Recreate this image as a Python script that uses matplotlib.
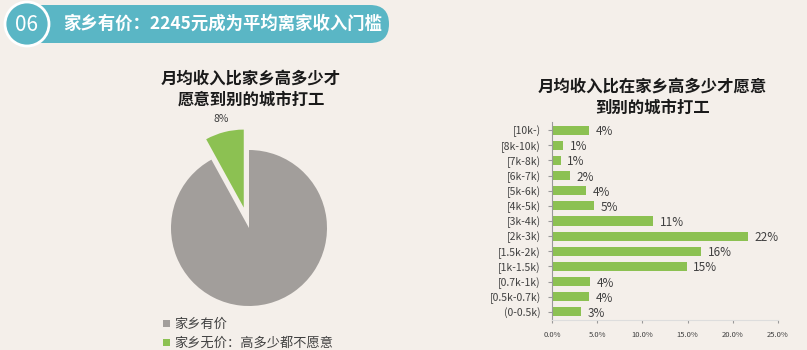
import matplotlib
matplotlib.use('Agg')
import matplotlib.pyplot as plt
from matplotlib.patches import FancyBboxPatch, Circle

plt.rcParams['font.family'] = ['Noto Sans CJK SC', 'DejaVu Sans']

# data
header_num = "06"
header_text = "家乡有价：2245元成为平均离家收入门槛"
pie_title = "月均收入比家乡高多少才\n愿意到别的城市打工"
pie_labels = ["家乡无价：高多少都不愿意", "家乡有价"]
pie_values = [8, 92]
bar_title = "月均收入比在家乡高多少才愿意\n到别的城市打工"
bar_cats = ["[10k-)", "[8k-10k)", "[7k-8k)", "[6k-7k)", "[5k-6k)", "[4k-5k)", "[3k-4k)",
            "[2k-3k)", "[1.5k-2k)", "[1k-1.5k)", "[0.7k-1k)", "[0.5k-0.7k)", "(0-0.5k)"]
bar_vals = [0.041, 0.0125, 0.010, 0.020, 0.038, 0.047, 0.112,
            0.217, 0.165, 0.149, 0.042, 0.041, 0.032]
bar_ticks = [0, 0.05, 0.10, 0.15, 0.20, 0.25]

BG = '#f4efea'
TEAL = '#5ab6c5'
GREEN = '#8cc152'
GREY = '#a29e9b'
TXT = '#404040'

W, H = 807, 350
fig = plt.figure(figsize=(W / 100, H / 100), dpi=100, facecolor=BG)

def fx(px): return px / W
def fy(py): return 1 - py / H

# header banner
hax = fig.add_axes([0, 0, 1, 1], zorder=0)
hax.set_xlim(0, W); hax.set_ylim(H, 0); hax.axis('off')
hax.add_patch(FancyBboxPatch((14, 5), 375, 38, boxstyle="round,pad=0,rounding_size=19",
                             fc=TEAL, ec='none'))
hax.add_patch(Circle((27, 24), 22, fc=TEAL, ec='white', lw=2))
hax.text(27, 25, header_num, color='white', fontsize=15, ha='center', va='center')
hax.text(63, 24, header_text, color='white', fontsize=12.5, fontweight='bold', ha='left', va='center')

# pie
cx, cy, r = 249, 228, 78
pax = fig.add_axes([fx(cx - 1.5 * r), fy(cy + 1.5 * r), 3 * r / W, 3 * r / H])
wedges, texts, autotexts = pax.pie(pie_values, colors=[GREEN, GREY], startangle=90,
                                   explode=[0.27, 0], autopct='%d%%', pctdistance=1.17,
                                   wedgeprops=dict(lw=0), textprops=dict(fontsize=7.5, color=TXT))
for t in autotexts[1:]:
    t.set_visible(False)
pax.set_xlim(-1.5, 1.5); pax.set_ylim(-1.5, 1.5)
pax.set_aspect('auto')
fig.text(fx(251), fy(89), pie_title, ha='center', va='center', fontsize=11.8,
         fontweight='bold', color='#1a1a1a', linespacing=1.25)

# legend under pie (grey first)
for i, (lab, col) in enumerate([(pie_labels[1], GREY), (pie_labels[0], GREEN)]):
    y = 324 + 19 * i
    hax.add_patch(plt.Rectangle((163, y - 4), 7, 7, fc=col, ec='none'))
    hax.text(174, y, lab, fontsize=9.5, color=TXT, ha='left', va='center')

# bars
left, right, top, bottom = 552, 778, 122.5, 319.5
bax = fig.add_axes([fx(left), fy(bottom), (right - left) / W, (bottom - top) / H])
bax.set_facecolor('none')
ypos = list(range(len(bar_cats)))
bax.barh(ypos, bar_vals, height=0.6, color=GREEN)
bax.set_ylim(len(bar_cats) - 0.5, -0.5)
bax.set_xlim(0, 0.25)
bax.set_yticks(ypos)
bax.set_yticklabels(bar_cats, fontsize=7.5, color=TXT)
bax.set_xticks(bar_ticks)
bax.set_xticklabels([f"{t * 100:.1f}%" for t in bar_ticks], fontsize=5.5, color=TXT)
for y, v in zip(ypos, bar_vals):
    bax.text(v + 0.007, y + 0.1, f"{round(v * 100):d}%", fontsize=8.5, color=TXT,
             ha='left', va='center')
for s in ['top', 'right']:
    bax.spines[s].set_visible(False)
bax.spines['left'].set_color('#999999')
bax.spines['bottom'].set_color('#dddddd')
bax.tick_params(axis='y', length=3, color='#999999', pad=5)
bax.tick_params(axis='x', length=2, color='#999999', pad=6)
fig.text(fx(652), fy(97), bar_title, ha='center', va='center', fontsize=11.8,
         fontweight='bold', color='#1a1a1a', linespacing=1.25)

fig.savefig('out.png', dpi=100, facecolor=BG)
